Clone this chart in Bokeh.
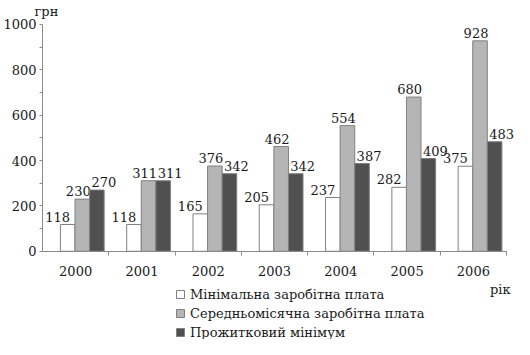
from bokeh.plotting import figure
from bokeh.models import ColumnDataSource, Range1d, FixedTicker, Legend, LegendItem
from bokeh.transform import dodge
from bokeh.core.properties import value
from bokeh.embed import file_html
from bokeh.resources import INLINE

years = ["2000", "2001", "2002", "2003", "2004", "2005", "2006"]
min_wage = [118, 118, 165, 205, 237, 282, 375]
avg_wage = [230, 311, 376, 462, 554, 680, 928]
subsistence = [270, 311, 342, 342, 387, 409, 483]
series_names = ["Мінімальна заробітна плата",
                "Середньомісячна заробітна плата",
                "Прожитковий мінімум"]
y_ticks = [0, 200, 400, 600, 800, 1000]
y_unit = "грн"
x_unit = "рік"

FONT = "DejaVu Serif"
TXT = "#1a1a1a"
xs = [i + 0.5 for i in range(len(years))]
src = ColumnDataSource(dict(
    x=xs, mn=min_wage, av=avg_wage, sb=subsistence,
    mn_t=[str(v) for v in min_wage],
    av_t=[str(v) for v in avg_wage],
    sb_t=[str(v) for v in subsistence],
))

# the frame reaches below the x axis so that the legend sits inside it
p = figure(width=514, height=339, x_range=Range1d(0, len(years) + 0.12), y_range=Range1d(-389, 1022),
           output_backend="svg", toolbar_location=None, title=y_unit,
           min_border_left=35, min_border_right=0, min_border_top=0, min_border_bottom=0)
p.outline_line_color = None
p.xgrid.visible = False
p.ygrid.visible = False

p.title.text_font = FONT
p.title.text_font_size = "13px"
p.title.text_font_style = "normal"
p.title.text_color = TXT
p.title.align = "left"
p.title.offset = -8
p.title.standoff = 2

W = 0.22
specs = [("mn", "mn_t", -0.12, "white", -10),
         ("av", "av_t", 0.10, "#b5b5b5", -4),
         ("sb", "sb_t", 0.32, "#505050", 7)]
renderers = []
for col, tcol, off, color, xo in specs:
    r = p.vbar(x=dodge("x", off, range=p.x_range), top=col, width=W, source=src,
               fill_color=color, line_color="#808080", line_width=1)
    renderers.append(r)
    p.text(x=dodge("x", off, range=p.x_range), y=col, text=tcol, source=src,
           text_font=value(FONT), text_font_size="13px", text_color=TXT,
           text_align="center", text_baseline="bottom", y_offset=-3, x_offset=xo)

# x unit label at the right end of the x axis, below the year labels
p.text(x=[len(years)], y=[0], text=[x_unit], text_font=value(FONT), text_font_size="13px",
       text_color=TXT, text_align="right", text_baseline="middle", y_offset=38, x_offset=4)

for ax in (p.xaxis, p.yaxis):
    ax.axis_line_color = "#8a8a8a"
    ax.major_tick_line_color = "#8a8a8a"
    ax.minor_tick_line_color = "#8a8a8a"
    ax.major_label_text_font = FONT
    ax.major_label_text_font_size = "13px"
    ax.major_label_text_color = TXT

p.xaxis.fixed_location = 0
p.xaxis.bounds = (0, len(years))
p.xaxis.ticker = FixedTicker(ticks=xs, minor_ticks=list(range(1, len(years) + 1)))
p.xaxis.major_label_overrides = {x: y for x, y in zip(xs, years)}
p.xaxis.major_tick_out = 0
p.xaxis.major_tick_in = 0
p.xaxis.minor_tick_out = 4
p.xaxis.minor_tick_in = 0
p.xaxis.major_label_standoff = 11

p.yaxis.bounds = (0, 1000)
p.yaxis.ticker = FixedTicker(ticks=y_ticks, minor_ticks=list(range(100, 1000, 200)))
p.yaxis.major_tick_out = 3
p.yaxis.major_tick_in = 0
p.yaxis.minor_tick_out = 3
p.yaxis.minor_tick_in = 0
p.yaxis.major_label_standoff = 3

legend = Legend(items=[LegendItem(label=n, renderers=[r]) for n, r in zip(series_names, renderers)],
                location=(133, -1), orientation="vertical",
                label_text_font=FONT, label_text_font_size="13px", label_text_color=TXT,
                glyph_width=10, glyph_height=10, label_standoff=5, label_height=16,
                spacing=3, padding=0, margin=0,
                border_line_color=None, background_fill_alpha=0)
p.add_layout(legend)

open("out.html", "w").write(file_html(p, INLINE))
